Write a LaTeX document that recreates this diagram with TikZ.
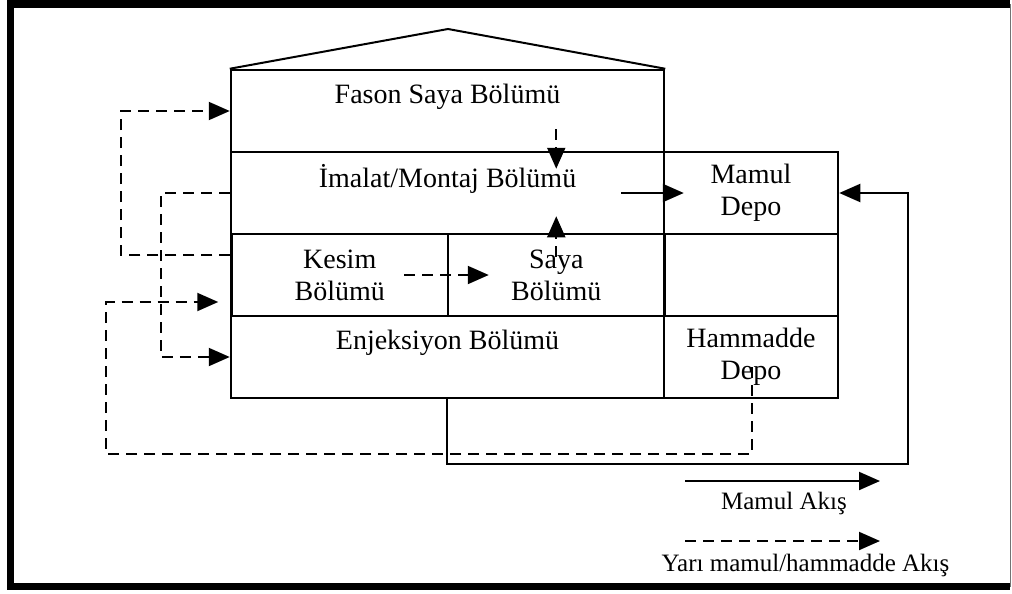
\documentclass[tikz,border=0pt]{standalone}
\usepackage{fontspec}
\setmainfont{Liberation Serif}
\usepackage{tikz}
\usetikzlibrary{positioning,arrows.meta,calc}

\begin{document}
\begin{tikzpicture}[
    x=0.5pt, y=-0.5pt,
    room/.style   ={draw=black, line width=1.25pt, align=center, inner sep=0pt, minimum height=41pt, font=\fontsize{14pt}{16pt}\selectfont},
    wide/.style   ={room, minimum width=216.5pt},
    half/.style   ={room, minimum width=108.25pt},
    depo/.style   ={room, minimum width=87pt},
    lbl/.style    ={inner sep=0pt, yshift=7pt, font=\fontsize{14pt}{16pt}\selectfont},
    legend/.style ={inner sep=0pt, font=\fontsize{12.5pt}{15pt}\selectfont},
    flow/.style   ={-{Triangle[length=10.5pt,width=9pt]}, line width=1pt, black},
    semi/.style   ={flow, dash pattern=on 5.5pt off 3.5pt},
  ]
  \useasboundingbox (0,0) rectangle (1012,594);
  % outer frame (right side is cut, only a thin line is left)
  \draw[line width=3.75pt] (1010,4) -- (10.5,4) -- (10.5,586.5) -- (1010,586.5);
  \draw[line width=0.6pt, black!55] (1010.5,4) -- (1010.5,586.5);
  % the building, one row per floor
  \node[wide, label={[lbl]center:Fason Saya Bölümü}]    (fason)      at (447.5,111) {};
  \node[wide, label={[lbl]center:İmalat/Montaj Bölümü}] (imalat)     at (447.5,193) {};
  \node[depo]                                            (mamul)      at (751,193)   {Mamul\\Depo};
  \node[half]                                            (kesim)      at (339.75,275) {Kesim\\Bölümü};
  \node[half]                                            (saya)       at (556.25,275) {Saya\\Bölümü};
  \node[depo]                                            (bos)        at (751,275)   {};
  \node[wide, label={[lbl]center:Enjeksiyon Bölümü}]    (enjeksiyon) at (447.5,357) {};
  \node[depo]                                            (hammadde)   at (751,357)   {Hammadde\\Depo};
  % roof
  \coordinate (apex) at (448,29);
  \draw[line width=1pt] (fason.north west) -- (apex) -- (fason.north east);
  % flows inside the building
  \draw[semi] ($(fason.south -| saya)+(0,-24)$) -- ($(imalat.north -| saya)+(0,18)$);
  \draw[semi] ($(saya.north)+(0,24)$) -- ($(imalat.south -| saya)+(0,-19)$);
  \draw[flow] ($(imalat.east)+(-44,0)$) -- ($(mamul.west)+(21,0)$);
  \draw[semi] ($(kesim.east)+(-45,0)$) -- ($(saya.west)+(42,0)$);
  % dashed loops on the left
  \draw[semi] ($(kesim.west)+(0,-20)$) -- ++(-109,0) |- (fason.west);
  \draw[semi] (imalat.west) -- ++(-69,0) |- (enjeksiyon.west);
  \draw[semi] ($(hammadde)+(1,10)$) -- ++(0,87) -| ($(kesim.west)+(-124,27)$) -- ($(kesim.west)+(-12,27)$);
  % Enjeksiyon out under the building and back into Mamul Depo
  \draw[flow] (enjeksiyon.south -| saya.west) -- ++(0,65) -| ($(mamul.east)+(69,0)$) -- (mamul.east);
  % legend
  \coordinate (lm-a) at (685,481);
  \coordinate (lm-b) at (880,481);
  \coordinate (ls-a) at (685,541);
  \coordinate (ls-b) at (880,541);
  \draw[flow] (lm-a) -- (lm-b);
  \node[legend] (lm-txt) at (784,503) {Mamul Akış};
  \draw[semi] (ls-a) -- (ls-b);
  \node[legend] (ls-txt) at (805.5,565) {Yarı mamul/hammadde Akış};
\end{tikzpicture}
\end{document}
